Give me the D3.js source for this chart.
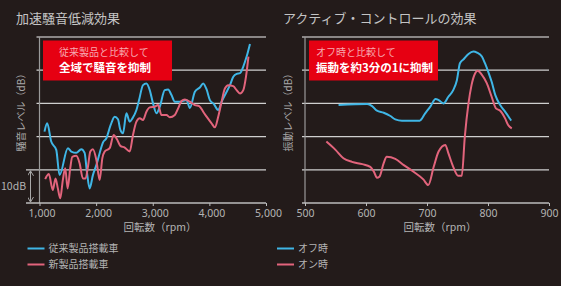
<!DOCTYPE html>
<html>
<head>
<meta charset="utf-8">
<script src="https://cdn.jsdelivr.net/npm/d3@7"></script>
<style>
  body { margin: 0; background: #231b1a; }
  svg { display: block; }
  text { font-family: "Noto Sans CJK JP", "Noto Sans", sans-serif; }
</style>
</head>
<body>
<svg width="561" height="286"></svg>
<script>
// [rpm, dB]
var conventional = [
  [1088, 21.5], [1136, 24.0], [1207, 18.5], [1296, 16.0], [1354, 8.4], [1501, 16.5],
  [1561, 15.5], [1650, 15.1], [1738, 16.2], [1797, 15.1], [1837, 9.4], [1885, 4.4],
  [1943, 8.4], [2004, 11.4], [2062, 15.0], [2120, 18.2], [2181, 19.5], [2257, 23.5],
  [2328, 26.0], [2386, 25.2], [2428, 22.0], [2474, 21.0], [2535, 27.0], [2593, 24.5],
  [2641, 25.5], [2712, 28.0], [2758, 31.0], [2828, 35.5], [2888, 36.0], [2947, 34.0],
  [3005, 30.0], [3066, 27.0], [3124, 29.0], [3212, 34.0], [3271, 34.2], [3331, 32.5],
  [3390, 30.5], [3478, 30.5], [3597, 31.0], [3655, 28.6], [3744, 33.5], [3832, 34.8],
  [3890, 36.0], [3951, 34.2], [4009, 31.0], [4080, 29.8], [4156, 28.0], [4216, 30.5],
  [4305, 33.5], [4363, 35.5], [4422, 38.0], [4482, 38.9], [4540, 39.1], [4599, 41.1],
  [4658, 44.1], [4717, 47.9]
];

var newModel = [
  [1101, 7.2], [1165, 8.7], [1235, 3.9], [1283, 7.4], [1324, 4.4], [1366, 1.4],
  [1412, 6.9], [1455, 10.5], [1496, 4.4], [1543, 10.5], [1579, 13.9], [1650, 14.2],
  [1708, 12.0], [1766, 7.4], [1814, 7.4], [1855, 10.9], [1897, 15.5], [1943, 16.2],
  [2004, 13.0], [2062, 6.9], [2110, 13.5], [2150, 15.5], [2239, 16.5], [2310, 20.5],
  [2368, 19.2], [2428, 17.2], [2505, 16.7], [2593, 15.5], [2651, 20.5], [2712, 24.5],
  [2770, 25.5], [2828, 25.0], [2888, 27.5], [2947, 28.8], [3035, 29.0], [3094, 29.5],
  [3154, 26.5], [3242, 26.5], [3301, 25.8], [3390, 26.5], [3448, 28.5], [3508, 30.7],
  [3567, 31.2], [3655, 30.5], [3744, 29.5], [3820, 29.2], [3891, 27.5], [3951, 26.0],
  [4039, 24.0], [4097, 22.8], [4156, 26.0], [4216, 30.5], [4274, 34.5], [4333, 35.5],
  [4421, 35.2], [4481, 34.0], [4540, 33.0], [4599, 34.0], [4646, 38.0], [4690, 44.1]
];

var controlOff = [
  [555, 29.5], [602, 29.8], [610, 29.2], [618, 27.8], [629, 27.2], [640, 26.2],
  [648, 25.2], [659, 24.8], [688, 24.8], [697, 27.0], [706, 29.2], [714, 31.3],
  [719, 31.0], [727, 30.0], [735, 32.0], [743, 34.0], [749, 37.0], [754, 42.1],
  [760, 43.3], [768, 44.9], [776, 45.6], [782, 45.3], [790, 44.1], [795, 42.1],
  [801, 39.2], [806, 36.5], [812, 32.5], [820, 29.5], [828, 27.5], [833, 26.2],
  [838, 24.8]
];

var controlOn = [
  [535, 18.5], [550, 16.0], [563, 13.5], [577, 12.4], [594, 11.7], [607, 10.9],
  [613, 9.4], [618, 7.6], [622, 7.9], [629, 12.0], [634, 13.9], [648, 13.3],
  [662, 11.4], [678, 9.4], [694, 7.1], [702, 5.4], [711, 10.9], [719, 15.5],
  [730, 17.5], [735, 15.0], [743, 10.9], [751, 8.2], [757, 8.2], [762, 20.0],
  [768, 30.0], [773, 35.5], [779, 39.1], [783, 39.8], [790, 38.6], [798, 36.1],
  [806, 32.0], [813, 28.5], [820, 27.8], [828, 25.5], [833, 23.5], [839, 22.5]
];

var leftTicks = [1000, 2000, 3000, 4000, 5000];
var rightTicks = [500, 600, 700, 800, 900];
var gridValues = [10, 20, 30, 40, 50];

var blue = '#3fb6e6';
var pink = '#e2647c';
var plotTop = 37, plotBottom = 203;

var svg = d3.select('svg');

var yScale = d3.scaleLinear()
  .domain([0, 50])
  .range([plotBottom, plotTop]);

function panel(x0, x1, domain, ticks, fmt, series, opts) {
  var xScale = d3.scaleLinear().domain(domain).range([x0, x1]);
  var g = svg.append('g');

  // grid lines
  g.selectAll('.grid')
    .data(gridValues)
    .enter()
    .append('line')
    .attr('x1', d => (opts.bracket && d == 10) ? 26 : x0 - 3)
    .attr('x2', x1)
    .attr('y1', d => yScale(d))
    .attr('y2', d => yScale(d))
    .attr('stroke', d => d == 50 ? '#f2f2f2' : '#cfcfcf')
    .attr('stroke-width', 1.2);

  // y axis line
  g.append('line')
    .attr('x1', x0).attr('x2', x0)
    .attr('y1', plotTop).attr('y2', plotBottom)
    .attr('stroke', '#9a9a9a')
    .attr('stroke-width', 1.2);

  var xAxis = d3.axisBottom(xScale)
    .tickValues(ticks)
    .tickFormat(fmt)
    .tickSize(3)
    .tickSizeOuter(0);

  var ax = g.append('g')
    .attr('transform', 'translate(0,' + plotBottom + ')')
    .call(xAxis);
  ax.select('.domain')
    .attr('d', 'M' + (opts.bracket ? 26 : x0 - 3) + ',0H' + x1)
    .attr('stroke', '#bdbdbd')
    .attr('stroke-width', 1.4);
  ax.selectAll('.tick line').attr('stroke', '#bdbdbd');
  ax.selectAll('.tick text')
    .attr('fill', '#b4b4b4')
    .attr('dx', opts.dx)
    .attr('dy', '0.75em')
    .style('font-family', '"Noto Sans", sans-serif')
    .style('font-size', '10.5px');

  var line = d3.line()
    .x(d => xScale(d[0]))
    .y(d => yScale(d[1]))
    .curve(d3.curveMonotoneX);

  series.forEach(function(s) {
    g.append('path')
      .datum(s.data)
      .attr('fill', 'none')
      .attr('stroke', s.color)
      .attr('stroke-width', 2)
      .attr('stroke-linejoin', 'round')
      .attr('d', line);
  });

  // chart title
  svg.append('text')
    .attr('x', opts.titleX)
    .attr('y', 23)
    .attr('fill', '#c4c4c4')
    .style('font-size', '13px')
    .text(opts.title);

  // red callout
  svg.append('rect')
    .attr('x', opts.boxX)
    .attr('y', 40.5)
    .attr('width', opts.boxW)
    .attr('height', 40)
    .attr('fill', '#e60012');
  svg.append('text')
    .attr('x', opts.boxX + opts.pad)
    .attr('y', 55.5)
    .attr('fill', '#f7a9b0')
    .style('font-size', '10px')
    .text(opts.note1);
  svg.append('text')
    .attr('x', opts.boxX + opts.pad)
    .attr('y', 72)
    .attr('fill', '#ffffff')
    .style('font-size', '11.5px')
    .style('font-weight', 'bold')
    .text(opts.note2);

  // y label
  svg.append('text')
    .attr('transform', 'translate(' + opts.yLabelX + ',110) rotate(-90)')
    .attr('text-anchor', 'middle')
    .attr('dy', '0.35em')
    .attr('fill', '#a9a9a9')
    .style('font-size', '10px')
    .text(opts.yLabel);

  // x label
  svg.append('text')
    .attr('x', opts.xLabelX)
    .attr('y', 231)
    .attr('text-anchor', 'middle')
    .attr('fill', '#b4b4b4')
    .style('font-size', '10.5px')
    .text('回転数（rpm）');

  // legend
  series.forEach(function(s, i) {
    var ly = 248.5 + i * 16;
    svg.append('line')
      .attr('x1', opts.legendX).attr('x2', opts.legendX + 17)
      .attr('y1', ly).attr('y2', ly)
      .attr('stroke', s.color)
      .attr('stroke-width', 2);
    svg.append('text')
      .attr('x', opts.legendX + 21)
      .attr('y', ly)
      .attr('dy', '0.35em')
      .attr('fill', '#b4b4b4')
      .style('font-size', '10px')
      .text(s.name);
  });
}

panel(39.5, 266, [1000, 5000], leftTicks, d3.format(','),
  [{ name: '従来製品搭載車', data: conventional, color: blue },
   { name: '新製品搭載車', data: newModel, color: pink }],
  { bracket: true, dx: 2, title: '加速騒音低減効果', titleX: 16,
    boxX: 43, boxW: 129, pad: 16, note1: '従来製品と比較して', note2: '全域で騒音を抑制',
    yLabel: '騒音レベル（dB）', yLabelX: 21, xLabelX: 160, legendX: 27.5 });

panel(305, 549, [500, 900], rightTicks, d3.format('d'),
  [{ name: 'オフ時', data: controlOff, color: blue },
   { name: 'オン時', data: controlOn, color: pink }],
  { bracket: false, dx: 0, title: 'アクティブ・コントロールの効果', titleX: 283,
    boxX: 309, boxW: 129, pad: 7, note1: 'オフ時と比較して', note2: '振動を約3分の1に抑制',
    yLabel: '振動レベル（dB）', yLabelX: 288, xLabelX: 440, legendX: 277 });

// 10dB bracket on the left chart
var defs = svg.append('defs');
defs.append('marker')
  .attr('id', 'arrow')
  .attr('viewBox', '0 0 6 6')
  .attr('refX', 5).attr('refY', 3)
  .attr('markerWidth', 6).attr('markerHeight', 6)
  .attr('orient', 'auto-start-reverse')
  .append('path')
  .attr('d', 'M0,0L5,3L0,6')
  .attr('fill', 'none')
  .attr('stroke', '#a9a9a9');

svg.append('line')
  .attr('x1', 30.5).attr('x2', 30.5)
  .attr('y1', yScale(10) + 1).attr('y2', yScale(0) - 1)
  .attr('stroke', '#a9a9a9')
  .attr('marker-start', 'url(#arrow)')
  .attr('marker-end', 'url(#arrow)');

svg.append('text')
  .attr('x', 1)
  .attr('y', (yScale(10) + yScale(0)) / 2)
  .attr('dy', '0.35em')
  .attr('fill', '#b4b4b4')
  .style('font-size', '10.5px')
  .text('10dB');
</script>
</body>
</html>
